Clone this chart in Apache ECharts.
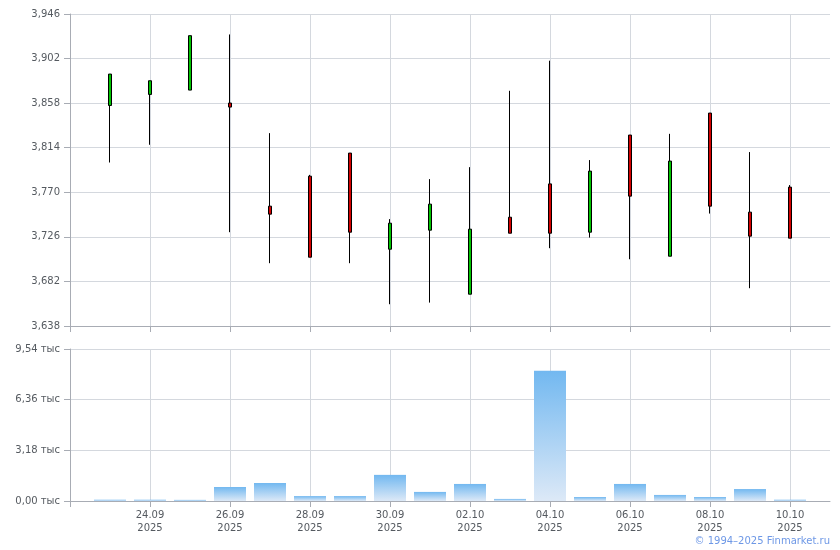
<!DOCTYPE html>
<html>
<head>
<meta charset="utf-8">
<script src="https://cdn.jsdelivr.net/npm/echarts@6/dist/echarts.min.js"></script>
<style>html,body{margin:0;padding:0;background:#fff}#c{width:840px;height:550px}</style>
</head>
<body>
<div id="c"></div>
<script>
// Categories: one per day, 22.09 .. 11.10 (first and last are empty padding days)
var dates = ['22.09','23.09','24.09','25.09','26.09','27.09','28.09','29.09','30.09','01.10',
             '02.10','03.10','04.10','05.10','06.10','07.10','08.10','09.10','10.10','11.10'];
var year = '2025';
var opens  = [null,3.8557,3.8666,3.8709,3.8581,3.7563,3.7859,3.8087,3.7138,3.7326,3.6694,3.7454,3.7783,3.7306,3.8265,3.7069,3.8482,3.7504,3.7751,null];
var closes = [null,3.8867,3.8801,3.9246,3.8541,3.7484,3.7059,3.7306,3.7395,3.7583,3.7336,3.7296,3.7296,3.7909,3.7662,3.8008,3.7563,3.7267,3.7247,null];
var lows   = [null,3.7994,3.8169,3.8709,3.7306,3.7000,3.7059,3.7000,3.6595,3.6611,3.6694,3.7296,3.7148,3.7253,3.7039,3.7069,3.7490,3.6753,3.7247,null];
var highs  = [null,3.8867,3.8801,3.9246,3.9258,3.8284,3.7872,3.8087,3.7435,3.7830,3.7948,3.8702,3.8999,3.8018,3.8265,3.8277,3.8482,3.8097,3.7771,null];
// Volume (units)
var volumes = [null,80,80,70,880,1130,310,310,1640,570,1070,130,8180,250,1070,380,250,750,80,null];
// Axis tick values
var priceTicks = [3.638,3.682,3.726,3.770,3.814,3.858,3.902,3.946];
var volTicks = [0,3180,6360,9540];
var copyright = '\u00A9 1994\u20132025 Finmarket.ru';

var font = 'DejaVu Sans';
var gridColor = '#d4d8de';
var axisColor = '#a8acb4';
var labelColor = '#555a60';

var candleData = dates.map(function(d,i){
  return opens[i]==null ? '-' : [opens[i],closes[i],lows[i],highs[i]];
});
var volData = volumes.map(function(v){ return v==null ? '-' : v; });

function tickIdx(i){ return i%2===0 && i<19; }
function gridIdx(i){ return i%2===0 && i>0 && i<19; }

function xAxisCfg(gi, showLabels){
  return {
    type:'category', gridIndex:gi, data:dates, boundaryGap:false,
    axisLine:{show:true, lineStyle:{color:axisColor, width:1}},
    axisTick:{show:true, interval:function(i){return tickIdx(i);}, length:6, lineStyle:{color:axisColor}},
    axisLabel:{show:showLabels, interval:function(i){return gridIdx(i);}, color:labelColor,
      fontFamily:font, fontSize:10, lineHeight:13, margin:8,
      formatter:function(v){ return v + '\n' + year; }},
    splitLine:{show:true, interval:function(i){return gridIdx(i);}, lineStyle:{color:gridColor, width:1}}
  };
}

var chart = echarts.init(document.getElementById('c'), null, {renderer:'canvas'});
chart.setOption({
  animation:false,
  backgroundColor:'#ffffff',
  grid:[
    {left:70, right:10, top:14, height:312},
    {left:70, right:10, top:349, height:152}
  ],
  xAxis:[ xAxisCfg(0,false), xAxisCfg(1,true) ],
  yAxis:[
    {type:'value', gridIndex:0, min:priceTicks[0], max:priceTicks[priceTicks.length-1], scale:true,
     axisLine:{show:true, lineStyle:{color:axisColor}},
     axisTick:{show:true, length:6, lineStyle:{color:axisColor}, customValues:priceTicks},
     axisLabel:{color:labelColor, fontFamily:font, fontSize:10, margin:10, customValues:priceTicks,
       formatter:function(v){ return v.toFixed(3).replace('.',','); }},
     splitLine:{show:true, lineStyle:{color:gridColor}}},
    {type:'value', gridIndex:1, min:0, max:volTicks[volTicks.length-1], interval:volTicks[1],
     axisLine:{show:true, lineStyle:{color:axisColor}},
     axisTick:{show:true, length:6, lineStyle:{color:axisColor}},
     axisLabel:{color:labelColor, fontFamily:font, fontSize:10, margin:10,
       formatter:function(v){ return (v/1000).toFixed(2).replace('.',',') + ' \u0442\u044b\u0441'; }},
     splitLine:{show:true, lineStyle:{color:gridColor}}}
  ],
  series:[
    {type:'candlestick', xAxisIndex:0, yAxisIndex:0, data:candleData, barWidth:3,
     itemStyle:{color:'#00c400', color0:'#d40000', borderColor:'#000000', borderColor0:'#000000', borderWidth:1}},
    {type:'bar', xAxisIndex:1, yAxisIndex:1, data:volData, barWidth:32,
     itemStyle:{color:new echarts.graphic.LinearGradient(0,0,0,1,[
       {offset:0, color:'#72b8f0'},{offset:1, color:'#dde9f7'}])}}
  ],
  graphic:[
    {type:'text', right:10, top:536, style:{text:copyright, fill:'#6e98e6', font:'10px "DejaVu Sans"'}}
  ]
});
</script>
</body>
</html>
